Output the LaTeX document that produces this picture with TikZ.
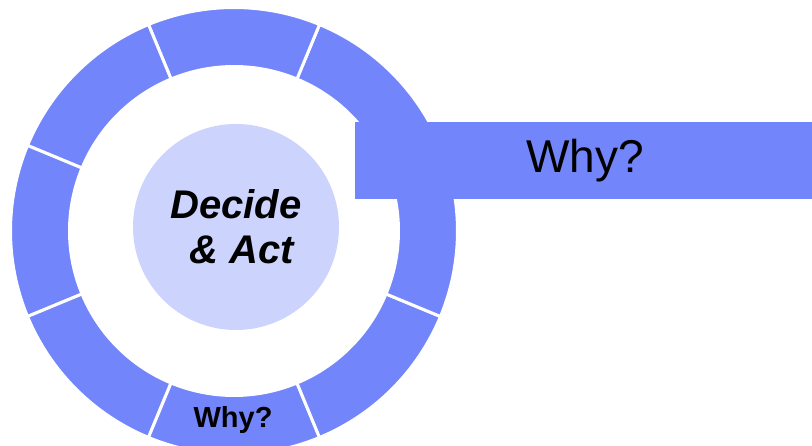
\documentclass[tikz,border=0pt]{standalone}
\usepackage{fontspec}
\setmainfont{Liberation Sans}
\usetikzlibrary{calc,positioning}
\definecolor{ringblue}{RGB}{114,133,250}
\definecolor{hubblue}{RGB}{204,211,252}
\tikzset{
	segment/.style={
		fill=ringblue,
		draw=white, line width=3pt},
	hub/.style={
		circle,
		fill=hubblue,
		minimum size=206pt,
		inner sep=0pt,
		align=center,
		font=\fontsize{40}{45}\selectfont\bfseries\itshape},
	whybox/.style={
		rectangle,
		fill=ringblue,
		minimum width=460pt,
		minimum height=77pt,
		font=\fontsize{46}{55}\selectfont},
	whylabel/.style={
		anchor=base,
		font=\fontsize{29}{34}\selectfont\bfseries},
}

\begin{document}
\begin{tikzpicture}[x=1pt,y=1pt]
	\useasboundingbox (0,0) rectangle (812,-446);
	\coordinate (c) at (234,-231);
	% ring of eight segments
	\foreach \i in {0,...,7} {
		\pgfmathsetmacro\s{22.5+45*\i}
		\pgfmathsetmacro\e{\s+45}
		\filldraw[segment] ($(c)+(\s:223.5pt)$) arc[start angle=\s, end angle=\e, radius=223.5pt]
			-- ($(c)+(\e:164.5pt)$) arc[start angle=\e, end angle=\s, radius=164.5pt] -- cycle;
	}
	\node[hub] (hub) at (236,-227) {Decide\\\ \& Act};
	\node[whybox] (why) at (585,-160.5) {Why?};
	\node[whylabel] (segwhy) at (233,-428) {Why?};
\end{tikzpicture}
\end{document}
